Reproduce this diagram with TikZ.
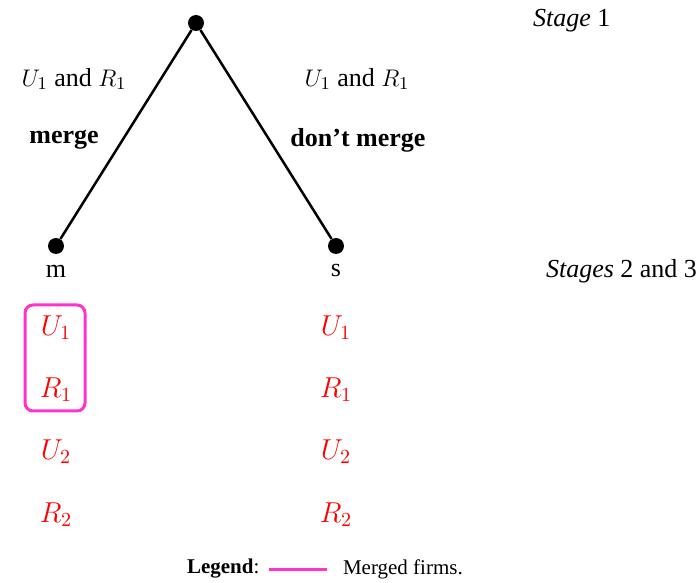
\documentclass[tikz,border=0pt]{standalone}
\usepackage{fontspec}
\setmainfont{Liberation Serif}
\usepackage{xcolor}
\usepackage{tikz}
\usetikzlibrary{positioning,fit}
\definecolor{firmred}{RGB}{255,0,0}
\definecolor{mergepink}{RGB}{255,51,204}

\tikzset{
  treedot/.style={circle, fill=black, inner sep=0pt, minimum size=8pt},
  firm/.style={text=firmred, font=\fontsize{14}{16}\selectfont},
  lbl/.style={font=\fontsize{13}{15}\selectfont},
  legendlbl/.style={font=\fontsize{10.5}{12}\selectfont},
  branch/.style={line width=1.25pt},
  mergebox/.style={draw=mergepink, line width=1.5pt, rounded corners=4pt}
}

\begin{document}
\begin{tikzpicture}[x=0.5pt, y=-0.5pt]
\useasboundingbox (0,0) rectangle (698,583);

% 1. Tree nodes
\node[treedot] (root) at (196,23) {};
\node[treedot] (mnode) at (56,246) {};
\node[treedot] (snode) at (336,246) {};
\draw[branch] (root) -- (mnode);
\draw[branch] (root) -- (snode);
\node[lbl] (mlab) at (56,271) {m};
\node[lbl] (slab) at (336,271) {s};

% 2. Branch labels
\node[lbl] (leftpair) at (74,79) {$U_1$ and $R_1$};
\node[lbl, font=\fontsize{13}{15}\selectfont\bfseries] (mergelab) at (64,140) {merge};
\node[lbl] (rightpair) at (357,79) {$U_1$ and $R_1$};
\node[lbl, font=\fontsize{13}{15}\selectfont\bfseries] (nomergelab) at (358,140) {don’t merge};

% 3. Stage labels
\node[lbl, anchor=west] (stageone) at (526,21) {\textit{Stage} 1};
\node[lbl, anchor=west] (stagetwo) at (539,271) {\textit{Stages} 2 and 3};

% 4. Firms after merger
\node[firm] (mU1) at (56,328) {$U_1$};
\node[firm] (mR1) at (56,390) {$R_1$};
\node[firm] (mU2) at (56,452) {$U_2$};
\node[firm] (mR2) at (56,515) {$R_2$};
\node[mergebox, fit={(25,305) (85,411)}, inner sep=0pt] (mbox) {};

% 5. Firms without merger
\node[firm] (sU1) at (336,328) {$U_1$};
\node[firm] (sR1) at (336,390) {$R_1$};
\node[firm] (sU2) at (336,452) {$U_2$};
\node[firm] (sR2) at (336,515) {$R_2$};

% 6. Legend
\node[legendlbl, anchor=west] (legend) at (180,569) {\textbf{Legend}:};
\coordinate (legA) at (269,570);
\coordinate (legB) at (327,570);
\draw[draw=mergepink, line width=1.5pt] (legA) -- (legB);
\node[legendlbl, anchor=west] (legtext) at (336,569) {Merged firms.};

\end{tikzpicture}
\end{document}
